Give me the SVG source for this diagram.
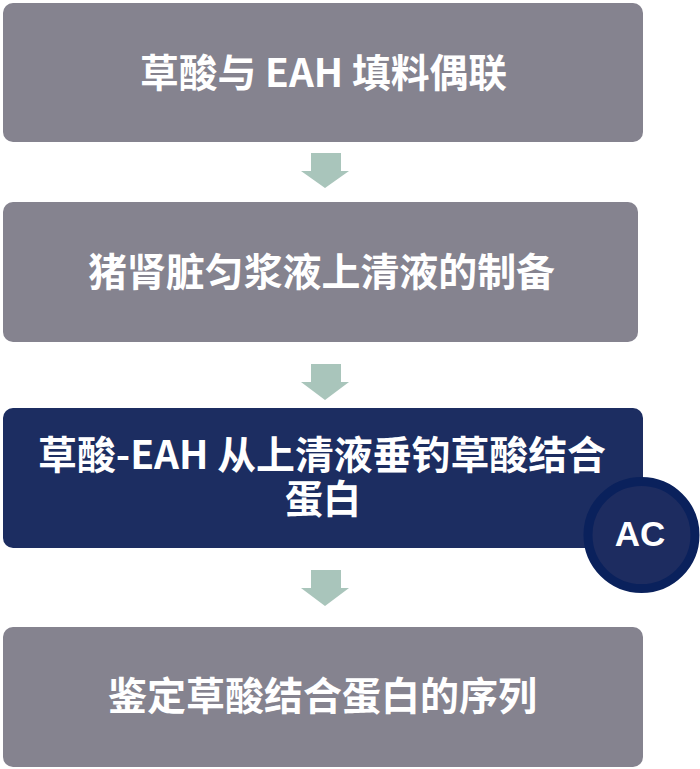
<svg xmlns="http://www.w3.org/2000/svg" width="700" height="769" viewBox="0 0 700 769">
  <style>
    .box-gray { fill: #85838f; }
    .box-navy { fill: #1c2d61; }
    .label { fill: #ffffff; font-family: "Noto Sans CJK SC", "Noto Sans", sans-serif; font-weight: bold; font-size: 39px; }
    .arrow { fill: #a9c5bb; }
    .badge { fill: #1d2c60; stroke: #0a215c; stroke-width: 9; }
    .badge-text { fill: #ffffff; font-family: "Liberation Sans", Arial, sans-serif; font-weight: bold; font-size: 35px; text-anchor: middle; }
  </style>
  <rect width="700" height="769" fill="#ffffff"/>
  <g id="connectors">
    <polygon class="arrow" points="311,153 341,153 341,171 349,171 325,188 301,171 311,171"/>
    <polygon class="arrow" points="311,364 341,364 341,382 349,382 325,400 301,382 311,382"/>
    <polygon class="arrow" points="311,570 341,570 341,588 349,588 325,606 301,588 311,588"/>
  </g>
  <g id="node1">
    <rect class="box-gray" x="3" y="3" width="640" height="139" rx="10"/>
    <text class="label" x="140" y="87" textLength="367" lengthAdjust="spacingAndGlyphs">草酸与 EAH 填料偶联</text>
  </g>
  <g id="node2">
    <rect class="box-gray" x="3" y="202" width="635" height="140" rx="10"/>
    <text class="label" x="88" y="286" textLength="467" lengthAdjust="spacingAndGlyphs">猪肾脏匀浆液上清液的制备</text>
  </g>
  <g id="node3">
    <rect class="box-navy" x="3" y="408" width="640" height="140" rx="10"/>
    <text class="label"><tspan x="38" y="469" textLength="568" lengthAdjust="spacingAndGlyphs">草酸-EAH 从上清液垂钓草酸结合</tspan><tspan x="285" y="513" textLength="76" lengthAdjust="spacingAndGlyphs">蛋白</tspan></text>
  </g>
  <g id="node-ac">
    <circle class="badge" cx="641.5" cy="535" r="53.5"/>
    <text class="badge-text" x="640" y="546">AC</text>
  </g>
  <g id="node4">
    <rect class="box-gray" x="3" y="627" width="640" height="140" rx="10"/>
    <text class="label" x="108" y="710" textLength="429" lengthAdjust="spacingAndGlyphs">鉴定草酸结合蛋白的序列</text>
  </g>
</svg>
